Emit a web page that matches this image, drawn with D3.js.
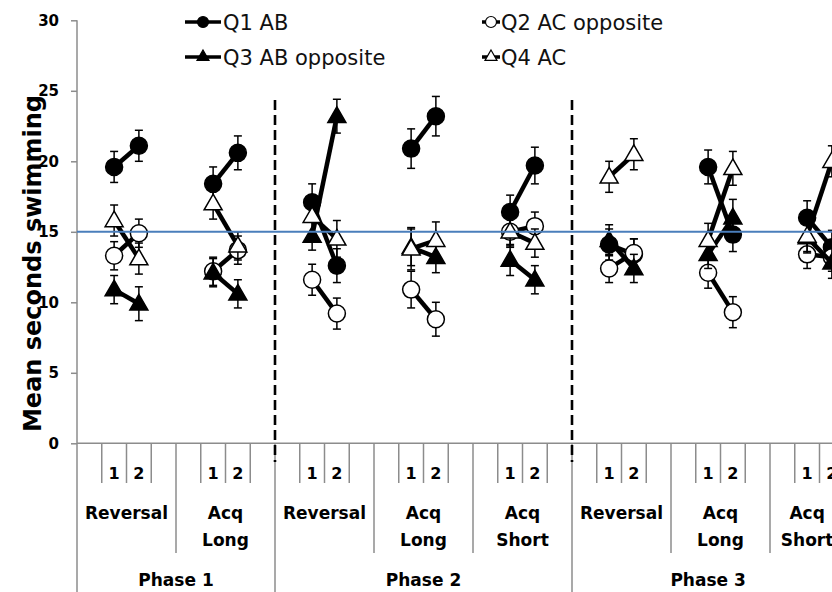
<!DOCTYPE html>
<html><head><meta charset="utf-8">
<script src="https://cdn.jsdelivr.net/npm/d3@7"></script>
<style>body{margin:0;background:#fff} svg{display:block}</style>
</head><body><svg id="chart" width="832" height="592"></svg>
<script>
// ---------- data ----------
const phaseLabels = ["Phase 1", "Phase 2", "Phase 3"];
const groupLabels = [["Reversal"], ["Acq", "Long"], ["Reversal"], ["Acq", "Long"], ["Acq", "Short"], ["Reversal"], ["Acq", "Long"], ["Acq", "Short"]];
const groupPhase = [0, 0, 1, 1, 1, 2, 2, 2];
const groupSlotCounts = [4, 4, 4, 4, 4, 4, 4, 3];
const trialLabels = ["1", "2"];
const yTicks = [0, 5, 10, 15, 20, 25, 30];
const chanceLevel = 15;
const seriesNames = ["Q1 AB", "Q2 AC opposite", "Q3 AB opposite", "Q4 AC"];

// [trial1, trial2] per group
const q1Values = [[19.6, 21.1], [18.4, 20.6], [17.1, 12.6], [20.9, 23.2], [16.4, 19.7], [14.1, 13.4], [19.6, 14.8], [16.0, 13.9]];
const q2Values = [[13.3, 14.9], [12.2, 13.7], [11.6, 9.2], [10.9, 8.8], [15.0, 15.4], [12.4, 13.5], [12.1, 9.3], [13.4, 13.2]];
const q3Values = [[10.9, 9.9], [12.1, 10.6], [14.7, 23.2], [13.9, 13.2], [13.0, 11.6], [14.4, 12.4], [13.4, 16.0], [14.6, 12.8]];
const q4Values = [[15.8, 13.1], [17.0, 14.0], [16.1, 14.5], [13.8, 14.4], [15.0, 14.2], [18.9, 20.5], [14.4, 19.5], [14.7, 20.0]];

const q1Errors = [[1.1, 1.1], [1.2, 1.2], [1.3, 1.2], [1.4, 1.4], [1.2, 1.3], [1.1, 1.1], [1.2, 1.2], [1.2, 1.2]];
const q2Errors = [[1.0, 1.0], [1.0, 1.0], [1.1, 1.1], [1.3, 1.2], [1.0, 1.0], [1.0, 1.0], [1.1, 1.1], [1.0, 1.0]];
const q3Errors = [[1.0, 1.2], [1.0, 1.0], [1.0, 1.2], [1.3, 1.1], [1.1, 1.0], [1.1, 1.0], [1.0, 1.3], [1.1, 1.1]];
const q4Errors = [[1.1, 1.1], [1.1, 1.0], [1.1, 1.3], [1.5, 1.3], [1.1, 1.0], [1.1, 1.1], [1.2, 1.2], [1.1, 1.1]];

// ---------- setup ----------
const series = [
  {name: seriesNames[0], values: q1Values, errors: q1Errors, shape: "circle", fill: "#000"},
  {name: seriesNames[1], values: q2Values, errors: q2Errors, shape: "circle", fill: "#fff"},
  {name: seriesNames[2], values: q3Values, errors: q3Errors, shape: "triangle", fill: "#000"},
  {name: seriesNames[3], values: q4Values, errors: q4Errors, shape: "triangle", fill: "#fff"}
];

const svg = d3.select("#chart");
svg.append("rect").attr("width", 832).attr("height", 592).attr("fill", "#fff");

const axisColor = "#8c8c8c";
const boldFont = "'DejaVu Sans', sans-serif";
const slotStep = 24.75, xLeft = 77;

const slotKeys = [], slotInfo = [];
groupLabels.forEach((g, gi) => {
  for (let s = 0; s < groupSlotCounts[gi]; s++) {
    slotKeys.push(gi + "-" + s);
    slotInfo.push({group: gi, slot: s, phase: groupPhase[gi]});
  }
});

const x = d3.scaleBand().domain(slotKeys).range([xLeft, xLeft + slotKeys.length * slotStep]).padding(0);
const y = d3.scaleLinear().domain([0, 30]).range([443.3, 20.3]);
const px = (gi, t) => x(gi + "-" + (t + 1)) + x.bandwidth() / 2;

// ---------- y axis ----------
const yAxisG = svg.append("g").attr("transform", `translate(${xLeft},0)`)
  .call(d3.axisLeft(y).tickValues(yTicks).tickSize(6).tickPadding(12).tickFormat(d3.format("d")));
yAxisG.select(".domain").remove();
yAxisG.selectAll(".tick line").attr("stroke", axisColor).attr("stroke-width", 1.5);
yAxisG.selectAll(".tick text").attr("font-family", boldFont).attr("font-weight", "bold")
  .attr("font-size", 15).attr("fill", "#000");
svg.append("line").attr("x1", xLeft).attr("x2", xLeft).attr("y1", y(30)).attr("y2", 592)
  .attr("stroke", axisColor).attr("stroke-width", 1.5);

svg.append("text")
  .attr("transform", `translate(41,${(95 + 432) / 2}) rotate(-90)`)
  .attr("text-anchor", "middle")
  .attr("font-family", boldFont).attr("font-weight", "bold").attr("font-size", 24)
  .attr("textLength", 337).attr("lengthAdjust", "spacingAndGlyphs")
  .text("Mean seconds swimming");

// ---------- category axis ----------
svg.append("line").attr("x1", xLeft).attr("x2", x.range()[1]).attr("y1", y(0)).attr("y2", y(0))
  .attr("stroke", axisColor).attr("stroke-width", 1.5);

const catG = svg.append("g");
for (let i = 1; i <= slotKeys.length; i++) {
  let bottom;
  const xe = i < slotKeys.length ? x(slotKeys[i]) : x.range()[1];
  if (i === slotKeys.length || slotInfo[i].phase !== slotInfo[i - 1].phase) bottom = 592;
  else if (slotInfo[i].slot === 0) bottom = 553;
  else bottom = 483;
  catG.append("line").attr("x1", xe).attr("x2", xe).attr("y1", y(0)).attr("y2", bottom)
    .attr("stroke", axisColor).attr("stroke-width", 1.5);
}
// trial numbers
groupLabels.forEach((g, gi) => {
  trialLabels.forEach((t, ti) => {
    catG.append("text").attr("x", px(gi, ti)).attr("y", 478.5).attr("text-anchor", "middle")
      .attr("font-family", boldFont).attr("font-weight", "bold").attr("font-size", 16).text(t);
  });
  const keys = slotKeys.filter((k, i) => slotInfo[i].group === gi);
  const gx = (x(keys[0]) + x(keys[keys.length - 1]) + x.bandwidth()) / 2;
  g.forEach((line, li) => {
    catG.append("text").attr("x", gx).attr("y", 519 + li * 27).attr("text-anchor", "middle")
      .attr("font-family", boldFont).attr("font-weight", "bold").attr("font-size", 17).text(line);
  });
});
phaseLabels.forEach((p, pi) => {
  const keys = slotKeys.filter((k, i) => slotInfo[i].phase === pi);
  const cx = (x(keys[0]) + x(keys[keys.length - 1]) + x.bandwidth()) / 2;
  catG.append("text").attr("x", cx).attr("y", 586).attr("text-anchor", "middle")
    .attr("font-family", boldFont).attr("font-weight", "bold").attr("font-size", 17).text(p);
});

// ---------- phase dashed separators ----------
for (let i = 1; i < slotKeys.length; i++) {
  if (slotInfo[i].phase !== slotInfo[i - 1].phase) {
    const xe = x(slotKeys[i]);
    svg.append("line").attr("x1", xe).attr("x2", xe).attr("y1", 100).attr("y2", 462)
      .attr("stroke", "#000").attr("stroke-width", 2.6).attr("stroke-dasharray", "10,5");
  }
}

// ---------- series ----------
const circleSym = d3.symbol().type(d3.symbolCircle).size(Math.PI * 8.5 * 8.5);
const triSym = d3.symbol().type(d3.symbolTriangle).size(18 * 18 * Math.sqrt(3) / 4);
const lineGen = d3.line().x(d => d[0]).y(d => d[1]);
const plotG = svg.append("g");

series.forEach(s => {
  const sg = plotG.append("g");
  s.values.forEach((pair, gi) => {
    // error bars
    pair.forEach((v, t) => {
      const cx = px(gi, t), e = s.errors[gi][t];
      sg.append("line").attr("x1", cx).attr("x2", cx).attr("y1", y(v + e)).attr("y2", y(v - e))
        .attr("stroke", "#000").attr("stroke-width", 1.5);
      [v + e, v - e].forEach(ev => sg.append("line").attr("x1", cx - 4).attr("x2", cx + 4)
        .attr("y1", y(ev)).attr("y2", y(ev)).attr("stroke", "#000").attr("stroke-width", 1.5));
    });
    sg.append("path").attr("d", lineGen(pair.map((v, t) => [px(gi, t), y(v)])))
      .attr("fill", "none").attr("stroke", "#000").attr("stroke-width", 4.5);
    pair.forEach((v, t) => {
      sg.append("path").attr("d", s.shape === "circle" ? circleSym() : triSym())
        .attr("transform", `translate(${px(gi, t)},${y(v) + (s.shape === "triangle" ? 1 : 0)})`)
        .attr("fill", s.fill).attr("stroke", "#000").attr("stroke-width", 1.5);
    });
  });
});

// chance line
svg.append("line").attr("x1", xLeft).attr("x2", x.range()[1]).attr("y1", y(chanceLevel)).attr("y2", y(chanceLevel))
  .attr("stroke", "#4A7EBB").attr("stroke-width", 2);

// ---------- legend ----------
const legendPos = [
  {x1: 185, x2: 221, mx: 203, tx: 223, base: 30},
  {x1: 482, x2: 500, mx: 491, tx: 501, base: 30},
  {x1: 185, x2: 221, mx: 203, tx: 223, base: 65},
  {x1: 482, x2: 500, mx: 491, tx: 501, base: 65}
];
const lgCircle = d3.symbol().type(d3.symbolCircle).size(Math.PI * 5.5 * 5.5);
const lgTri = d3.symbol().type(d3.symbolTriangle).size(12 * 12 * Math.sqrt(3) / 4);
series.forEach((s, i) => {
  const p = legendPos[i], my = p.base - 8;
  svg.append("line").attr("x1", p.x1).attr("x2", p.x2).attr("y1", my).attr("y2", my)
    .attr("stroke", "#000").attr("stroke-width", 3.5);
  svg.append("path").attr("d", s.shape === "circle" ? lgCircle() : lgTri())
    .attr("transform", `translate(${p.mx},${my})`).attr("fill", s.fill).attr("stroke", "#000").attr("stroke-width", 1.2);
  svg.append("text").attr("x", p.tx).attr("y", p.base).attr("font-family", "'DejaVu Sans', sans-serif")
    .attr("font-size", 21).attr("fill", "#111").text(s.name);
});
</script>
</body></html>
